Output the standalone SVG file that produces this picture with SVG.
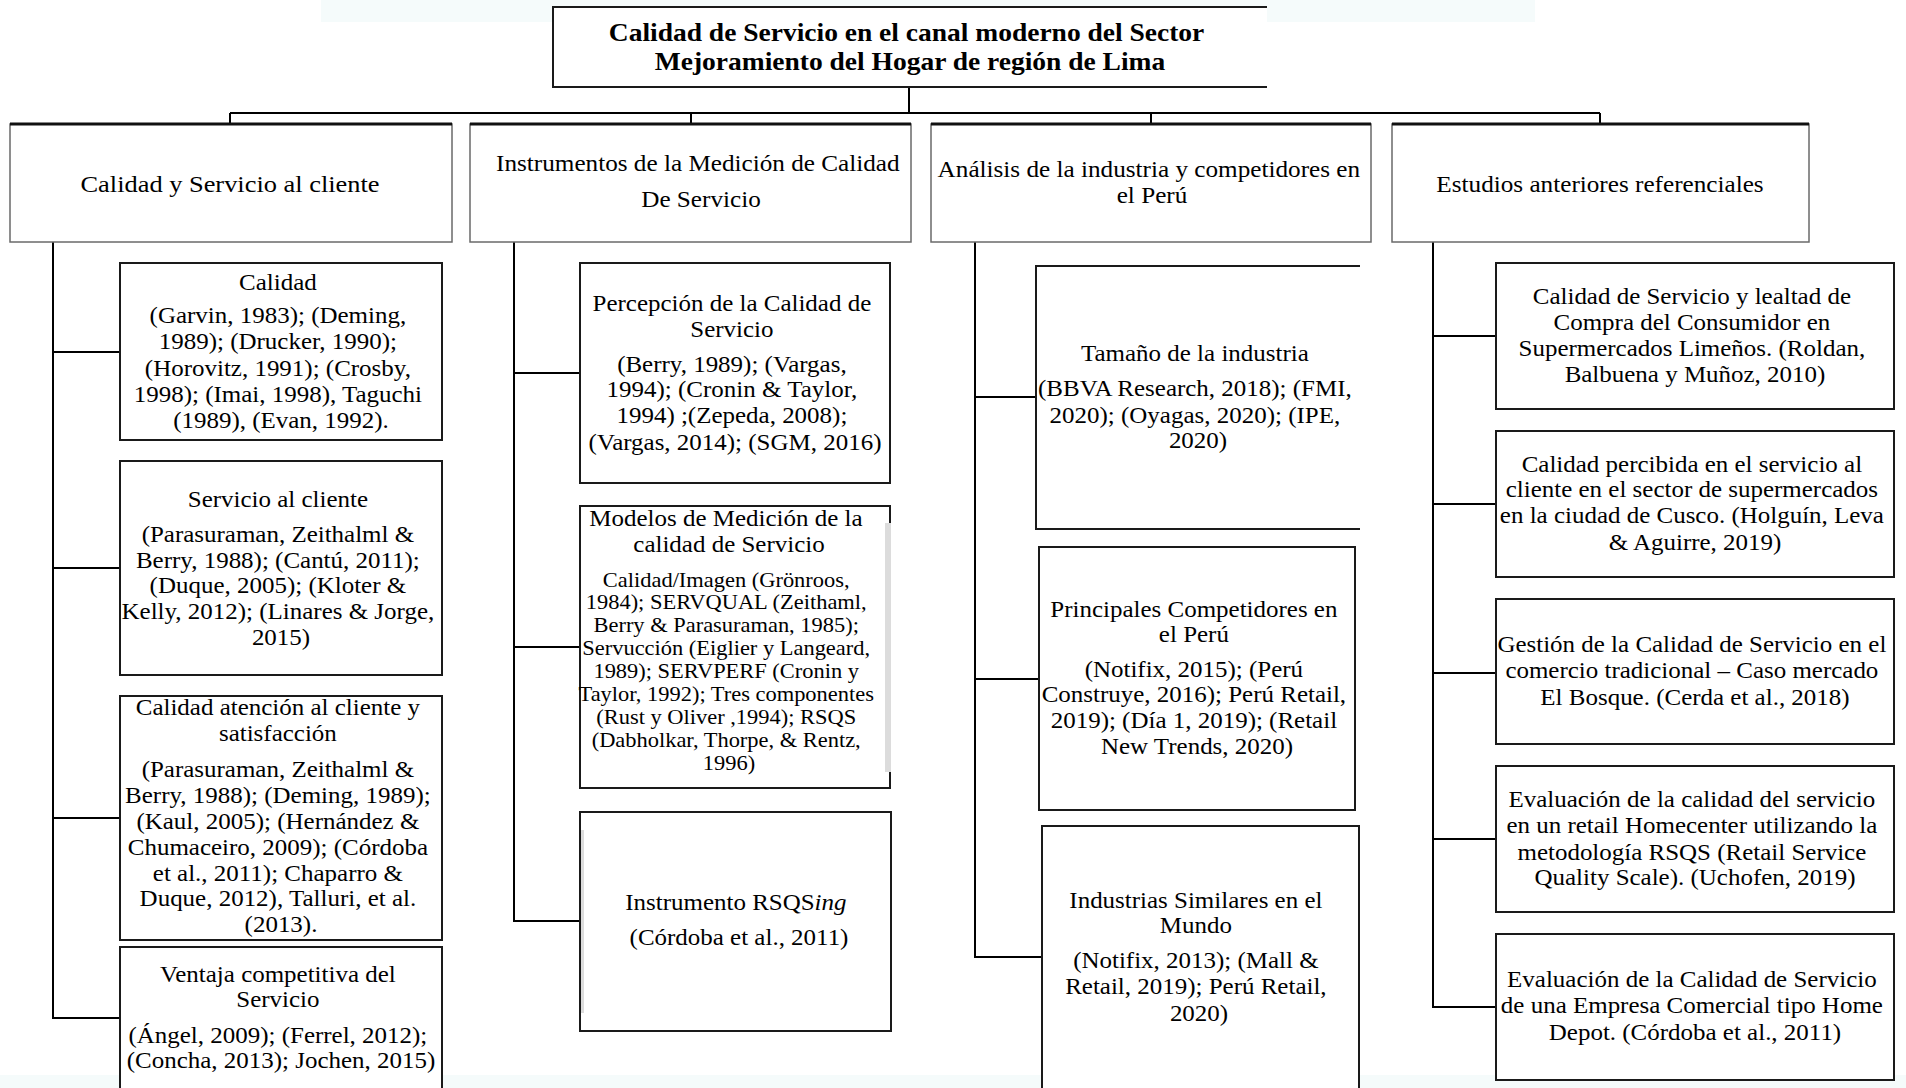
<svg xmlns="http://www.w3.org/2000/svg" width="1906" height="1088" viewBox="0 0 1906 1088">
<style>
  .bg{fill:#ffffff}
  .tint{fill:#f5fbfb}
  .box{fill:#ffffff;stroke:#1a1a1a;stroke-width:2}
  .hdr{fill:#ffffff;stroke:#6a6a6a;stroke-width:1.5}
  .topln{fill:none;stroke:#111;stroke-width:3}
  .open{fill:none;stroke:#1a1a1a;stroke-width:2}
  .band{fill:#dcdcdc}
  .conn{fill:none;stroke:#000;stroke-width:2}
  .t{font-family:"Liberation Serif","Times New Roman",serif;font-size:22.7px;fill:#000;text-anchor:middle}
  .ts{font-family:"Liberation Serif","Times New Roman",serif;font-size:20.4px;fill:#000;text-anchor:middle}
  .th{font-family:"Liberation Serif","Times New Roman",serif;font-size:24px;fill:#000;text-anchor:middle}
  .tt{font-family:"Liberation Serif","Times New Roman",serif;font-size:25px;font-weight:bold;fill:#000;text-anchor:middle}
</style>
<rect class="bg" x="0" y="0" width="1906" height="1088"/>
<rect class="tint" x="321" y="0" width="1214" height="22"/>
<rect class="tint" x="0" y="1075" width="1906" height="13"/>

<g id="connectors">
  <path class="conn" d="M909,87 V113 M230,113 H1600 M230,113 V124 M691,113 V124 M1151,113 V124 M1600,113 V124"/>
  <path class="conn" d="M53,242 V1018 H120 M53,352 H120 M53,568 H120 M53,818 H120"/>
  <path class="conn" d="M514,242 V921 H580 M514,373 H580 M514,647 H580"/>
  <path class="conn" d="M975,242 V957 H1042 M975,397 H1036 M975,679 H1039"/>
  <path class="conn" d="M1433,242 V1007 H1496 M1433,336 H1496 M1433,504 H1496 M1433,673 H1496 M1433,839 H1496"/>
</g>

<g id="root">
  <rect x="553" y="7" width="714" height="80" fill="#fff"/>
  <path class="open" d="M1267,7 H553 V87 H1267"/>
  <text class="tt" transform="translate(910,0) scale(1.1,1)">
    <tspan x="0" y="41">Calidad de Servicio en el canal moderno del Sector</tspan>
    <tspan x="0" y="70">Mejoramiento del Hogar de región de Lima</tspan>
  </text>
</g>

<g id="h1">
  <rect class="hdr" x="10" y="124" width="442" height="118"/>
  <line class="topln" x1="10" y1="124" x2="452" y2="124"/>
  <text class="th" transform="translate(230,0) scale(1.1,1)"><tspan x="0" y="192">Calidad y Servicio al cliente</tspan></text>
</g>
<g id="h2">
  <rect class="hdr" x="470" y="124" width="441" height="118"/>
  <line class="topln" x1="470" y1="124" x2="911" y2="124"/>
  <text class="th" transform="translate(701,0) scale(1.05,1)">
    <tspan x="0" y="171">Instrumentos de la Medición de Calidad</tspan>
    <tspan x="0" y="207">De Servicio</tspan>
  </text>
</g>
<g id="h3">
  <rect class="hdr" x="931" y="124" width="440" height="118"/>
  <line class="topln" x1="931" y1="124" x2="1371" y2="124"/>
  <text class="th" transform="translate(1152,0) scale(1.05,1)">
    <tspan x="0" y="177">Análisis de la industria y competidores en</tspan>
    <tspan x="0" y="203">el Perú</tspan>
  </text>
</g>
<g id="h4">
  <rect class="hdr" x="1392" y="124" width="417" height="118"/>
  <line class="topln" x1="1392" y1="124" x2="1809" y2="124"/>
  <text class="th" transform="translate(1600,0) scale(1.05,1)"><tspan x="0" y="192">Estudios anteriores referenciales</tspan></text>
</g>

<!-- Column 1 -->
<g id="c1a">
  <rect class="box" x="120" y="263" width="322" height="177"/>
  <text class="t" transform="translate(281,0) scale(1.1,1)">
    <tspan x="0" y="290">Calidad</tspan>
    <tspan x="0" y="323">(Garvin, 1983); (Deming,</tspan>
    <tspan x="0" y="349">1989); (Drucker, 1990);</tspan>
    <tspan x="0" y="376">(Horovitz, 1991); (Crosby,</tspan>
    <tspan x="0" y="402">1998); (Imai, 1998), Taguchi</tspan>
    <tspan x="0" y="428">(1989), (Evan, 1992).</tspan>
  </text>
</g>
<g id="c1b">
  <rect class="box" x="120" y="461" width="322" height="214"/>
  <text class="t" transform="translate(281,0) scale(1.1,1)">
    <tspan x="0" y="507">Servicio al cliente</tspan>
    <tspan x="0" y="542">(Parasuraman, Zeithalml &amp;</tspan>
    <tspan x="0" y="568">Berry, 1988); (Cantú, 2011);</tspan>
    <tspan x="0" y="593">(Duque, 2005); (Kloter &amp;</tspan>
    <tspan x="0" y="619">Kelly, 2012); (Linares &amp; Jorge,</tspan>
    <tspan x="0" y="645">2015)</tspan>
  </text>
</g>
<g id="c1c">
  <rect class="box" x="120" y="696" width="322" height="244"/>
  <text class="t" transform="translate(281,0) scale(1.1,1)">
    <tspan x="0" y="715">Calidad atención al cliente y</tspan>
    <tspan x="0" y="741">satisfacción</tspan>
    <tspan x="0" y="777">(Parasuraman, Zeithalml &amp;</tspan>
    <tspan x="0" y="803">Berry, 1988); (Deming, 1989);</tspan>
    <tspan x="0" y="829">(Kaul, 2005); (Hernández &amp;</tspan>
    <tspan x="0" y="855">Chumaceiro, 2009); (Córdoba</tspan>
    <tspan x="0" y="881">et al., 2011); Chaparro &amp;</tspan>
    <tspan x="0" y="906">Duque, 2012), Talluri, et al.</tspan>
    <tspan x="0" y="932">(2013).</tspan>
  </text>
</g>
<g id="c1d">
  <rect class="box" x="120" y="947" width="322" height="150"/>
  <text class="t" transform="translate(281,0) scale(1.1,1)">
    <tspan x="0" y="982">Ventaja competitiva del</tspan>
    <tspan x="0" y="1007">Servicio</tspan>
    <tspan x="0" y="1043">(Ángel, 2009); (Ferrel, 2012);</tspan>
    <tspan x="0" y="1068">(Concha, 2013); Jochen, 2015)</tspan>
  </text>
</g>

<!-- Column 2 -->
<g id="c2a">
  <rect class="box" x="580" y="263" width="310" height="220"/>
  <text class="t" transform="translate(735,0) scale(1.1,1)">
    <tspan x="0" y="311">Percepción de la Calidad de</tspan>
    <tspan x="0" y="337">Servicio</tspan>
    <tspan x="0" y="372">(Berry, 1989); (Vargas,</tspan>
    <tspan x="0" y="397">1994); (Cronin &amp; Taylor,</tspan>
    <tspan x="0" y="423">1994) ;(Zepeda, 2008);</tspan>
    <tspan x="0" y="450">(Vargas, 2014); (SGM, 2016)</tspan>
  </text>
</g>
<g id="c2b">
  <rect class="box" x="580" y="506" width="310" height="282"/>
  <rect class="band" x="885" y="523" width="6" height="249"/>
  <text class="t" transform="translate(729,0) scale(1.1,1)">
    <tspan x="0" y="526">Modelos de Medición de la</tspan>
    <tspan x="0" y="552">calidad de Servicio</tspan>
  </text>
  <text class="ts" transform="translate(729,0) scale(1.1,1)">
    <tspan x="0" y="587">Calidad/Imagen (Grönroos,</tspan>
    <tspan x="0" y="609">1984); SERVQUAL (Zeithaml,</tspan>
    <tspan x="0" y="632">Berry &amp; Parasuraman, 1985);</tspan>
    <tspan x="0" y="655">Servucción (Eiglier y Langeard,</tspan>
    <tspan x="0" y="678">1989); SERVPERF (Cronin y</tspan>
    <tspan x="0" y="701">Taylor, 1992); Tres componentes</tspan>
    <tspan x="0" y="724">(Rust y Oliver ,1994); RSQS</tspan>
    <tspan x="0" y="747">(Dabholkar, Thorpe, &amp; Rentz,</tspan>
    <tspan x="0" y="770">1996)</tspan>
  </text>
</g>
<g id="c2c">
  <rect class="box" x="580" y="812" width="311" height="219"/>
  <rect class="band" x="581" y="830" width="3" height="183"/>
  <text class="t" transform="translate(739,0) scale(1.1,1)">
    <tspan x="0" y="910">Instrumento RSQS<tspan font-style="italic">ing</tspan></tspan>
    <tspan x="0" y="945">(Córdoba et al., 2011)</tspan>
  </text>
</g>

<!-- Column 3 -->
<g id="c3a">
  <rect x="1036" y="266" width="324" height="263" fill="#fff"/>
  <path class="open" d="M1360,266 H1036 V529 H1360"/>
  <text class="t" transform="translate(1198,0) scale(1.1,1)">
    <tspan x="0" y="361">Tamaño de la industria</tspan>
    <tspan x="0" y="396">(BBVA Research, 2018); (FMI,</tspan>
    <tspan x="0" y="423">2020); (Oyagas, 2020); (IPE,</tspan>
    <tspan x="0" y="448">2020)</tspan>
  </text>
</g>
<g id="c3b">
  <rect class="box" x="1039" y="547" width="316" height="263"/>
  <text class="t" transform="translate(1197,0) scale(1.1,1)">
    <tspan x="0" y="617">Principales Competidores en</tspan>
    <tspan x="0" y="642">el Perú</tspan>
    <tspan x="0" y="677">(Notifix, 2015); (Perú</tspan>
    <tspan x="0" y="702">Construye, 2016); Perú Retail,</tspan>
    <tspan x="0" y="728">2019); (Día 1, 2019); (Retail</tspan>
    <tspan x="0" y="754">New Trends, 2020)</tspan>
  </text>
</g>
<g id="c3c">
  <rect class="box" x="1042" y="826" width="317" height="270"/>
  <text class="t" transform="translate(1199,0) scale(1.1,1)">
    <tspan x="0" y="908">Industrias Similares en el</tspan>
    <tspan x="0" y="933">Mundo</tspan>
    <tspan x="0" y="968">(Notifix, 2013); (Mall &amp;</tspan>
    <tspan x="0" y="994">Retail, 2019); Perú Retail,</tspan>
    <tspan x="0" y="1021">2020)</tspan>
  </text>
</g>

<!-- Column 4 -->
<g id="c4a">
  <rect class="box" x="1496" y="263" width="398" height="146"/>
  <text class="t" transform="translate(1695,0) scale(1.1,1)">
    <tspan x="0" y="304">Calidad de Servicio y lealtad de</tspan>
    <tspan x="0" y="330">Compra del Consumidor en</tspan>
    <tspan x="0" y="356">Supermercados Limeños. (Roldan,</tspan>
    <tspan x="0" y="382">Balbuena y Muñoz, 2010)</tspan>
  </text>
</g>
<g id="c4b">
  <rect class="box" x="1496" y="431" width="398" height="146"/>
  <text class="t" transform="translate(1695,0) scale(1.1,1)">
    <tspan x="0" y="472">Calidad percibida en el servicio al</tspan>
    <tspan x="0" y="497">cliente en el sector de supermercados</tspan>
    <tspan x="0" y="523">en la ciudad de Cusco. (Holguín, Leva</tspan>
    <tspan x="0" y="550">&amp; Aguirre, 2019)</tspan>
  </text>
</g>
<g id="c4c">
  <rect class="box" x="1496" y="599" width="398" height="145"/>
  <text class="t" transform="translate(1695,0) scale(1.1,1)">
    <tspan x="0" y="652">Gestión de la Calidad de Servicio en el</tspan>
    <tspan x="0" y="678">comercio tradicional – Caso mercado</tspan>
    <tspan x="0" y="705">El Bosque. (Cerda et al., 2018)</tspan>
  </text>
</g>
<g id="c4d">
  <rect class="box" x="1496" y="766" width="398" height="146"/>
  <text class="t" transform="translate(1695,0) scale(1.1,1)">
    <tspan x="0" y="807">Evaluación de la calidad del servicio</tspan>
    <tspan x="0" y="833">en un retail Homecenter utilizando la</tspan>
    <tspan x="0" y="860">metodología RSQS (Retail Service</tspan>
    <tspan x="0" y="885">Quality Scale). (Uchofen, 2019)</tspan>
  </text>
</g>
<g id="c4e">
  <rect class="box" x="1496" y="934" width="398" height="146"/>
  <text class="t" transform="translate(1695,0) scale(1.1,1)">
    <tspan x="0" y="987">Evaluación de la Calidad de Servicio</tspan>
    <tspan x="0" y="1013">de una Empresa Comercial tipo Home</tspan>
    <tspan x="0" y="1040">Depot. (Córdoba et al., 2011)</tspan>
  </text>
</g>
</svg>
